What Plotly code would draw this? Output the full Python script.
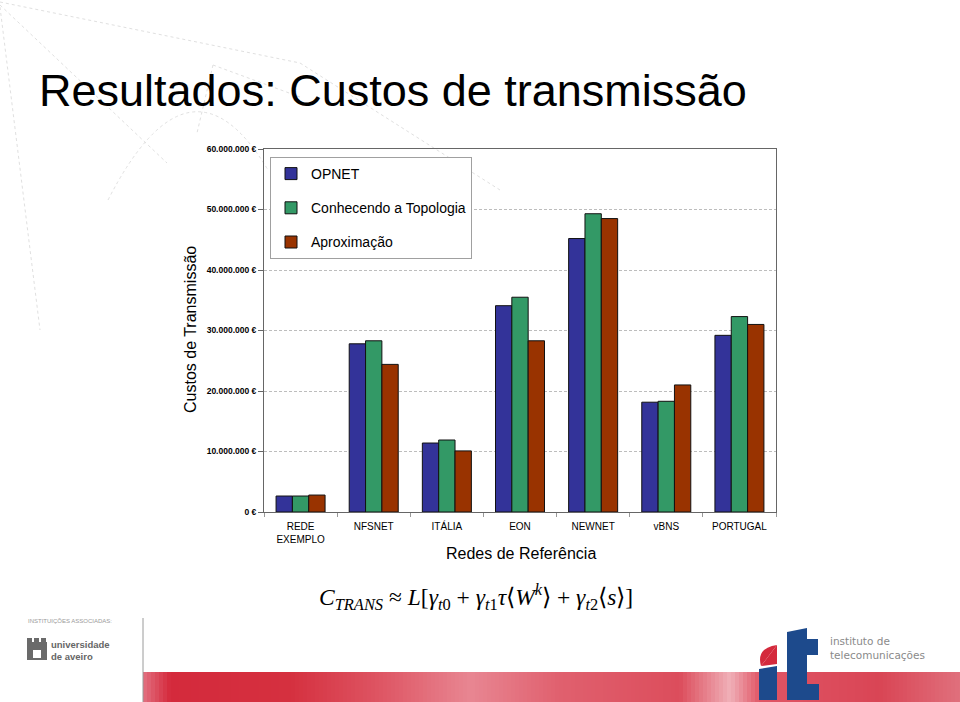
import plotly.graph_objects as go

# ---------------- data ----------------
categories = ["REDE<br>EXEMPLO", "NFSNET", "ITÁLIA", "EON", "NEWNET", "vBNS", "PORTUGAL"]
opnet = [2.64e6, 27.8e6, 11.4e6, 34.1e6, 45.2e6, 18.15e6, 29.2e6]
conhecendo = [2.64e6, 28.3e6, 11.9e6, 35.5e6, 49.3e6, 18.3e6, 32.3e6]
aproximacao = [2.8e6, 24.4e6, 10.1e6, 28.3e6, 48.5e6, 21.0e6, 31.0e6]
series_names = ["OPNET", "Conhecendo a Topologia", "Aproximação"]
series_colors = ["#333399", "#339966", "#993300"]
y_tick_values = [0, 10e6, 20e6, 30e6, 40e6, 50e6, 60e6]
y_tick_labels = ["0 €", "10.000.000 €", "20.000.000 €", "30.000.000 €",
                 "40.000.000 €", "50.000.000 €", "60.000.000 €"]

# ---------------- geometry helpers (pixel -> paper) ----------------
W, H = 960, 702
L, R, T, B = 264, 776, 149, 512


def px(x):
    return (x - L) / (R - L)


def py(y):
    return (B - y) / (B - T)


fig = go.Figure()
for name, vals, col in zip(series_names, [opnet, conhecendo, aproximacao], series_colors):
    fig.add_trace(go.Bar(
        x=categories, y=vals, name=name, legendgroup=name,
        marker=dict(color=col, line=dict(color="#111111", width=1)),
    ))

shapes = []
annotations = []

# faint background decoration (beamer theme lines)
deco = dict(color="#e0e0e0", width=1, dash="dot")
for (x0, y0, x1, y1) in [(0, 2, 300, 63), (300, 63, 500, 190), (0, 5, 167, 163),
                         (0, 7, 40, 330), (213, 65, 197, 133), (213, 65, 300, 97)]:
    shapes.append(dict(type="line", xref="paper", yref="paper",
                       x0=px(x0), y0=py(y0), x1=px(x1), y1=py(y1), line=deco, layer="below"))
shapes.append(dict(type="path", xref="paper", yref="paper", layer="below", line=deco,
                   path="M {} {} Q {} {} {} {}".format(px(108), py(200), px(190), py(40), px(268), py(170))))

# bottom red band (approximate gradient with strips)
stops = [(143, (226, 112, 128)), (170, (212, 42, 60)), (290, (213, 48, 63)), (380, (222, 85, 99)),
         (470, (232, 134, 146)), (560, (224, 96, 110)), (680, (220, 77, 92)), (730, (240, 176, 184)),
         (760, (224, 85, 101)), (880, (217, 69, 85)), (960, (224, 112, 124))]


def color_at(x):
    for (xa, ca), (xb, cb) in zip(stops[:-1], stops[1:]):
        if xa <= x <= xb:
            t = (x - xa) / (xb - xa)
            return "rgb({},{},{})".format(*[int(round(a + (b - a) * t)) for a, b in zip(ca, cb)])
    return "rgb(224,112,124)"


step = 4
xx = 143
while xx < 960:
    x2 = min(xx + step, 960)
    shapes.append(dict(type="rect", xref="paper", yref="paper", x0=px(xx), x1=px(x2 + 0.5),
                       y0=py(702), y1=py(672), fillcolor=color_at((xx + x2) / 2), line=dict(width=0)))
    xx = x2
# vertical separator line
shapes.append(dict(type="line", xref="paper", yref="paper", x0=px(143), x1=px(143),
                   y0=py(618), y1=py(702), line=dict(color="#9a9a9a", width=1)))

# "it" logo
blue = "#1d4a8c"
shapes.append(dict(type="path", xref="paper", yref="paper", fillcolor=blue, line=dict(width=0),
                   path="M {} {} L {} {} L {} {} L {} {} Z".format(px(759), py(669), px(777), py(666),
                                                                  px(777), py(700), px(759), py(700))))
shapes.append(dict(type="path", xref="paper", yref="paper", fillcolor=blue, line=dict(width=0),
                   path=("M {} {} L {} {} L {} {} L {} {} L {} {} L {} {} L {} {} L {} {} "
                         "L {} {} L {} {} Z").format(
                       px(787), py(632), px(807), py(628), px(807), py(639), px(818), py(639),
                       px(818), py(655), px(807), py(655), px(807), py(684), px(819), py(684),
                       px(819), py(700), px(787), py(700))))
shapes.append(dict(type="path", xref="paper", yref="paper", fillcolor="#d42a3c", line=dict(width=0),
                   path="M {} {} Q {} {} {} {} Z".format(px(777), py(645), px(756), py(648),
                                                         px(761), py(666))))
shapes.append(dict(type="path", xref="paper", yref="paper", fillcolor="#d42a3c", line=dict(width=0),
                   path="M {} {} L {} {} L {} {} Z".format(px(777), py(645), px(777), py(664),
                                                         px(761), py(666))))

# univ. de aveiro icon
shapes.append(dict(type="rect", xref="paper", yref="paper", x0=px(27), x1=px(47), y0=py(660), y1=py(642),
                   fillcolor="#6a6a6a", line=dict(width=0)))
for xa in (27, 34, 41):
    shapes.append(dict(type="rect", xref="paper", yref="paper", x0=px(xa), x1=px(xa + 5), y0=py(643),
                       y1=py(638), fillcolor="#6a6a6a", line=dict(width=0)))
shapes.append(dict(type="rect", xref="paper", yref="paper", x0=px(33), x1=px(41), y0=py(658), y1=py(650),
                   fillcolor="#ffffff", line=dict(width=0)))

# title
annotations.append(dict(text="Resultados: Custos de transmissão", xref="paper", yref="paper",
                        x=px(37), y=py(90), xanchor="left", yanchor="middle", showarrow=False,
                        font=dict(family="Liberation Sans, Arial, sans-serif", size=45, color="#000000")))
# axis titles
annotations.append(dict(text="Custos de Transmissão", xref="paper", yref="paper", x=px(190), y=py(330),
                        textangle=-90, showarrow=False, xanchor="center", yanchor="middle",
                        font=dict(family="Liberation Sans, Arial, sans-serif", size=16, color="#000000")))
annotations.append(dict(text="Redes de Referência", xref="paper", yref="paper", x=px(521), y=py(553),
                        showarrow=False, xanchor="center", yanchor="middle",
                        font=dict(family="Liberation Sans, Arial, sans-serif", size=16, color="#000000")))
# formula
formula = ("<i>C</i><sub><i>TRANS</i></sub> ≈ <i>L</i>[<i>γ</i><sub><i>t</i>0</sub> + "
           "<i>γ</i><sub><i>t</i>1</sub><i>τ</i>⟨<i>W</i><sup><i>k</i></sup>⟩ + "
           "<i>γ</i><sub><i>t</i>2</sub>⟨<i>s</i>⟩]")
annotations.append(dict(text=formula, xref="paper", yref="paper", x=px(476), y=py(597),
                        showarrow=False, xanchor="center", yanchor="middle",
                        font=dict(family="Liberation Serif, Times New Roman, serif", size=23.5,
                                  color="#000000")))
# logo texts
annotations.append(dict(text="INSTITUIÇÕES ASSOCIADAS:", xref="paper", yref="paper", x=px(26), y=py(621),
                        showarrow=False, xanchor="left", yanchor="middle",
                        font=dict(family="Liberation Sans, Arial, sans-serif", size=6, color="#9a9a9a")))
annotations.append(dict(text="<b>universidade<br>de aveiro</b>", xref="paper", yref="paper", x=px(49),
                        y=py(650), showarrow=False, xanchor="left", yanchor="middle", align="left",
                        font=dict(family="Liberation Sans, Arial, sans-serif", size=9.5, color="#666666")))
annotations.append(dict(text="instituto de<br>telecomunicações", xref="paper", yref="paper", x=px(828),
                        y=py(648), showarrow=False, xanchor="left", yanchor="middle", align="left",
                        font=dict(family="DejaVu Sans, sans-serif", size=10.5, color="#8a8a8a")))

fig.update_layout(
    width=W, height=H,
    margin=dict(l=L, r=W - R, t=T, b=H - B, pad=0),
    paper_bgcolor="#ffffff", plot_bgcolor="#ffffff",
    barmode="group", bargap=0.33, bargroupgap=0,
    font=dict(family="Liberation Sans, Arial, sans-serif", color="#000000"),
    showlegend=True,
    legend=dict(x=px(270), y=py(157), xanchor="left", yanchor="top",
                bgcolor="#ffffff", bordercolor="#a0a0a0", borderwidth=1,
                font=dict(size=14, color="#000000"), tracegroupgap=13,
                itemwidth=30, traceorder="grouped"),
    shapes=shapes, annotations=annotations,
    xaxis=dict(showline=True, linecolor="#666666", linewidth=1, mirror=True,
               ticks="outside", tickson="boundaries", ticklen=4, tickcolor="#999999",
               ticklabelstandoff=5,
               tickfont=dict(size=10, color="#000000"), showgrid=False, fixedrange=True),
    yaxis=dict(range=[0, 60e6], tickvals=y_tick_values,
               ticktext=["<b>{}</b>".format(t) for t in y_tick_labels],
               tickfont=dict(size=8.5, color="#000000"),
               showline=True, linecolor="#666666", linewidth=1, mirror=True,
               ticks="outside", ticklen=5, tickcolor="#666666",
               showgrid=True, gridcolor="#bdbdbd", griddash="3px,2px", gridwidth=1,
               zeroline=False, fixedrange=True),
)

fig.write_html("out.html")
